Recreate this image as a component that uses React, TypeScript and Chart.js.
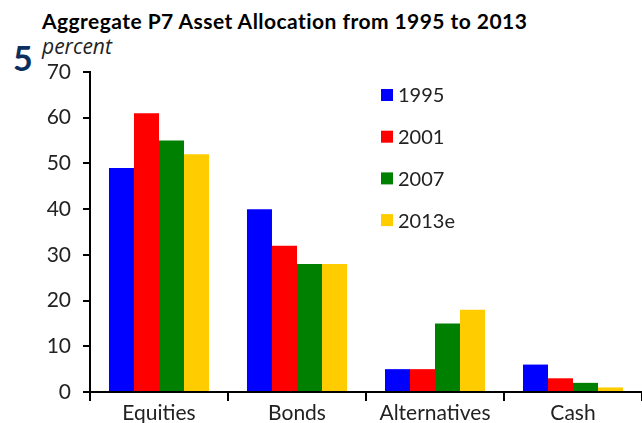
import React, { useEffect, useRef } from "react";
import { Chart, registerables } from "chart.js";

Chart.register(...registerables);

const categories = ["Equities", "Bonds", "Alternatives", "Cash"];
const seriesLabels = ["1995", "2001", "2007", "2013e"];
const values1995 = [49, 40, 5, 6];
const values2001 = [61, 32, 5, 3];
const values2007 = [55, 28, 15, 2];
const values2013 = [52, 28, 18, 1];
const colors = ["#0000FF", "#FF0000", "#008000", "#FFCC00"];
const yTicks = [0, 10, 20, 30, 40, 50, 60, 70];

const FONT = "Lato, 'Noto Sans', sans-serif";

const legendPlugin = {
  id: "customLegend",
  afterDraw(chart: any) {
    const ctx = chart.ctx;
    ctx.save();
    ctx.font = `20px ${FONT}`;
    ctx.textBaseline = "middle";
    ctx.textAlign = "left";
    chart.data.datasets.forEach((ds: any, i: number) => {
      const cy = 95 + i * 41.7;
      ctx.fillStyle = ds.backgroundColor;
      ctx.fillRect(381, cy - 6, 12, 12);
      ctx.fillStyle = "#222";
      ctx.fillText(ds.label, 398, cy + 1);
    });
    ctx.restore();
  },
};

export default function App() {
  const ref = useRef<HTMLCanvasElement>(null);
  useEffect(() => {
    const all = [values1995, values2001, values2007, values2013];
    const chart = new Chart(ref.current!, {
      type: "bar",
      data: {
        labels: categories,
        datasets: all.map((v, i) => ({
          label: seriesLabels[i],
          data: v,
          backgroundColor: colors[i],
          borderWidth: 0,
          barPercentage: 1,
          categoryPercentage: 0.725,
        })),
      },
      options: {
        animation: false,
        responsive: false,
        maintainAspectRatio: false,
        layout: { padding: { top: 72, right: 0, left: 0, bottom: 0 } },
        plugins: { legend: { display: false }, tooltip: { enabled: false }, title: { display: false } },
        scales: {
          x: {
            grid: { drawOnChartArea: false, drawTicks: true, tickLength: 9, color: "#000", lineWidth: 2, offset: true },
            border: { display: true, color: "#000", width: 2 },
            ticks: { color: "#222", font: { family: FONT, size: 21 }, padding: 0 },
            afterFit: (s: any) => { s.height = 31; },
          },
          y: {
            min: 0,
            max: 70,
            afterBuildTicks: (s: any) => { s.ticks = yTicks.map((v) => ({ value: v })); },
            grid: { drawOnChartArea: false, drawTicks: true, tickLength: 7, color: "#000", lineWidth: 2 },
            border: { display: true, color: "#000", width: 2 },
            ticks: { color: "#222", font: { family: FONT, size: 21 }, padding: 12 },
            afterFit: (s: any) => { s.width = 90; },
          },
        },
      },
      plugins: [legendPlugin],
    });
    return () => chart.destroy();
  }, []);
  return (
    <div style={{ position: "fixed", left: 0, top: 0, width: 642, height: 423, background: "#fff" }}>
      <div style={{ position: "absolute", left: 42, top: 8, fontFamily: FONT, fontWeight: 700, fontSize: 21, color: "#000", whiteSpace: "nowrap", letterSpacing: 0.45 }}>
        Aggregate P7 Asset Allocation from 1995 to 2013
      </div>
      <div style={{ position: "absolute", left: 13, top: 40, fontFamily: FONT, fontWeight: 700, fontSize: 34, color: "#0d2f5e", lineHeight: "36px" }}>
        5
      </div>
      <div style={{ position: "absolute", left: 42, top: 33, fontFamily: "'Open Sans', sans-serif", fontStyle: "italic", fontSize: 21, color: "#222", lineHeight: "26px" }}>
        percent
      </div>
      <canvas ref={ref} width={642} height={423} style={{ position: "absolute", left: 0, top: 0, width: 642, height: 423 }} />
    </div>
  );
}
